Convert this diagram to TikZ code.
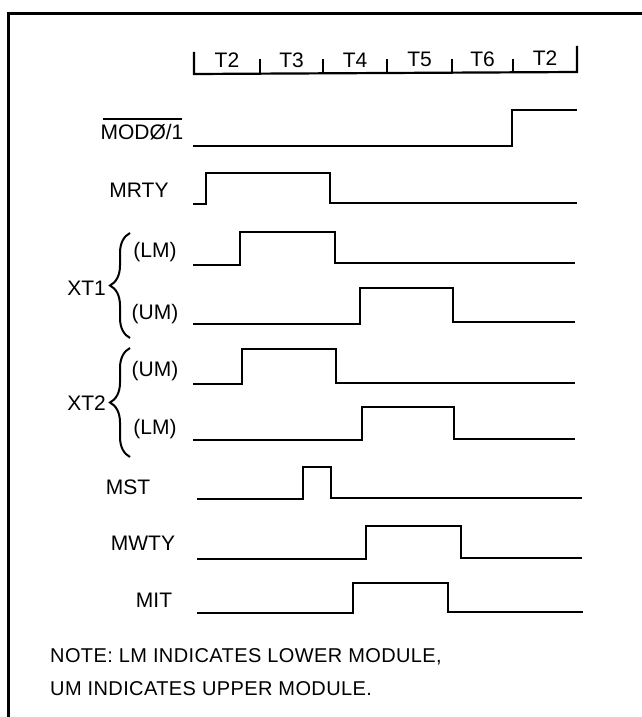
\documentclass[tikz,border=0pt]{standalone}
\usepackage{fontspec}
\setmainfont{Liberation Sans}
\newfontfamily\notefont[LetterSpace=2]{Liberation Sans}
\usetikzlibrary{decorations.pathreplacing}
\begin{document}
\begin{tikzpicture}[x=1pt,y=-1pt,
  sig/.style={line width=2.8pt, line join=miter, line cap=butt},
  frame/.style={line width=3pt},
  hdr/.style={line width=2.2pt},
  lbl/.style={font=\fontsize{21}{24}\selectfont, inner sep=0pt},
  note/.style={font=\notefont\fontsize{20}{24}\selectfont, inner sep=0pt, anchor=west},
  bracestyle/.style={line width=2pt, decorate, decoration={brace, amplitude=20pt, aspect=0.5}}]
\useasboundingbox (0,0) rectangle (642,717);
% frame
\draw[frame] (8,717) -- (8,14) -- (642,14);
% header
\draw[hdr] (194,52) -- (194,74) -- (577,72) -- (577,46);
\foreach \x in {260,323,387,452,513} \draw[hdr] (\x,59) -- (\x,73);
\node[lbl] (h1) at (227,60) {T2};
\node[lbl] (h2) at (291.5,60) {T3};
\node[lbl] (h3) at (355,60) {T4};
\node[lbl] (h4) at (419.5,59) {T5};
\node[lbl] (h5) at (482.5,59) {T6};
\node[lbl] (h6) at (545,58) {T2};
% labels
\node[lbl] (mod) at (142,132) {MODØ/1};
\draw[line width=1.3pt] (103,119) -- (182,119);
\node[lbl] (mrty) at (139,190) {MRTY};
\node[lbl] (x1lm) at (155,252) {(LM)};
\node[lbl] (x1um) at (155,314) {(UM)};
\node[lbl, anchor=east] (xt1) at (106,288) {XT1};
\node[lbl] (x2um) at (155,371) {(UM)};
\node[lbl] (x2lm) at (155,429) {(LM)};
\node[lbl, anchor=east] (xt2) at (106,403) {XT2};
\node[lbl] (mst) at (128,487) {MST};
\node[lbl] (mwty) at (143,543) {MWTY};
\node[lbl] (mit) at (154,600) {MIT};
% braces
\draw[bracestyle] (130,338) -- (130,233);
\draw[bracestyle] (130,457) -- (130,348);
% signals
\draw[sig] (193,146) -- (512,146) -- (512,110) -- (577,110);
\draw[sig] (193,204) -- (206,204) -- (206,173) -- (330,173) -- (330,203) -- (577,203);
\draw[sig] (193,265) -- (240,265) -- (240,232) -- (335,232) -- (335,263) -- (575,263);
\draw[sig] (193,324) -- (360,324) -- (360,288) -- (453,288) -- (453,322) -- (575,322);
\draw[sig] (193,384) -- (242,384) -- (242,349) -- (336,349) -- (336,383) -- (575,383);
\draw[sig] (193,440) -- (362,440) -- (362,407) -- (454,407) -- (454,439) -- (575,439);
\draw[sig] (197,499) -- (303,499) -- (303,467) -- (331,467) -- (331,498) -- (582,498);
\draw[sig] (197,559) -- (366,559) -- (366,526) -- (461,526) -- (461,558) -- (582,558);
\draw[sig] (197,613) -- (353,613) -- (353,583) -- (448,583) -- (448,612) -- (583,612);
% note
\node[note] (n1) at (50,657) {NOTE: LM INDICATES LOWER MODULE,};
\node[note] (n2) at (50,689) {UM INDICATES UPPER MODULE.};
\end{tikzpicture}
\end{document}
